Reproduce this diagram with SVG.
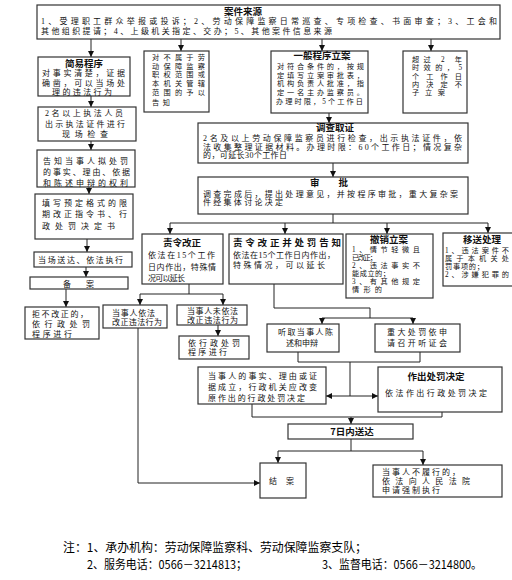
<svg xmlns="http://www.w3.org/2000/svg" width="512" height="580" viewBox="0 0 512 580">
<style>
rect.bx{fill:#fff;stroke:#333;stroke-width:1.2}
text{font-family:"Liberation Serif","Noto Sans CJK SC",serif;font-size:8px;fill:#111}
text.s{font-size:7.2px}
text.h{font-family:"Noto Sans CJK SC",sans-serif;font-weight:bold;font-size:9.5px;text-anchor:middle}
text.n{font-family:"Noto Sans CJK SC",sans-serif;font-size:12px;fill:#000}
.c{fill:none;stroke:#222;stroke-width:1}
</style>
<defs>
<marker id="ar" markerUnits="userSpaceOnUse" markerWidth="6" markerHeight="6" viewBox="0 0 6 6" refX="6" refY="3" orient="auto">
<path d="M0,0 L6,3 L0,6 Z" fill="#111"/>
</marker>
</defs>
<rect width="512" height="580" fill="#fff"/>

<g id="connectors" class="c">
<path d="M91,39 V57" marker-end="url(#ar)"/>
<path d="M181,39 V51" marker-end="url(#ar)"/>
<path d="M322,39 V51" marker-end="url(#ar)"/>
<path d="M431,39 V51" marker-end="url(#ar)"/>
<path d="M91,96 V107" marker-end="url(#ar)"/>
<path d="M91,141 V150" marker-end="url(#ar)"/>
<path d="M89,187 V194" marker-end="url(#ar)"/>
<path d="M87,239 V252" marker-end="url(#ar)"/>
<path d="M86,267 V277" marker-end="url(#ar)"/>
<path d="M66,289 V307" marker-end="url(#ar)"/>
<path d="M329,113 V123" marker-end="url(#ar)"/>
<path d="M333,163 V177" marker-end="url(#ar)"/>
<path d="M333,214 V223 M170,223 H488"/>
<path d="M170,223 V234" marker-end="url(#ar)"/>
<path d="M285,223 V234" marker-end="url(#ar)"/>
<path d="M387,223 V234" marker-end="url(#ar)"/>
<path d="M488,223 V233" marker-end="url(#ar)"/>
<path d="M189,284 V294 M140,294 H223"/>
<path d="M140,294 V305" marker-end="url(#ar)"/>
<path d="M223,294 V305" marker-end="url(#ar)"/>
<path d="M218,325 V336" marker-end="url(#ar)"/>
<path d="M138,328 V483 H260" marker-end="url(#ar)"/>
<path d="M274,284 V308 H370 V318 M322,318 H413"/>
<path d="M322,318 V324" marker-end="url(#ar)"/>
<path d="M413,318 V324" marker-end="url(#ar)"/>
<path d="M298,352 V362 H420 V352 M350,362 V396"/>
<path d="M350,396 H326" marker-end="url(#ar)"/>
<path d="M350,396 H378" marker-end="url(#ar)"/>
<path d="M252,404 V417 H442 V412"/>
<path d="M351,417 V424" marker-end="url(#ar)"/>
<path d="M351,439 V451 M278,451 H423"/>
<path d="M278,451 V463" marker-end="url(#ar)"/>
<path d="M423,451 V465" marker-end="url(#ar)"/>
</g>

<g id="source">
<rect class="bx" x="37" y="5" width="463" height="34"/>
<text class="h" x="243" y="14.5">案件来源</text>
<text x="41" y="23.5" textLength="456" lengthAdjust="spacing">1、受理职工群众举报或投诉；2、劳动保障监察日常巡查、专项检查、书面审查；3、工会和</text>
<text x="41" y="33.5" textLength="291" lengthAdjust="spacing">其他组织提请；4、上级机关指定、交办；5、其他案件信息来源</text>
</g>

<g id="simple">
<rect class="bx" x="38" y="57" width="92" height="39"/>
<text class="h" x="84" y="66.5">简易程序</text>
<text x="42" y="76" textLength="83" lengthAdjust="spacing">对事实清楚，证据</text>
<text x="42" y="85.5" textLength="83" lengthAdjust="spacing">确凿，可以当场处</text>
<text x="52" y="94.5" textLength="60" lengthAdjust="spacing">理的违法行为</text>
</g>

<g id="notbelong">
<rect class="bx" x="144" y="51" width="65" height="61"/>
<text class="s" x="152" y="60" textLength="53" lengthAdjust="spacing">对不属于劳</text>
<text class="s" x="152" y="68.5" textLength="53" lengthAdjust="spacing">动保障监察</text>
<text class="s" x="152" y="77" textLength="53" lengthAdjust="spacing">职权范围或</text>
<text class="s" x="152" y="86" textLength="53" lengthAdjust="spacing">本机关管辖</text>
<text class="s" x="152" y="95" textLength="53" lengthAdjust="spacing">范围的予以</text>
<text class="s" x="152" y="104.5" textLength="18" lengthAdjust="spacing">告知</text>
</g>

<g id="general">
<rect class="bx" x="271" y="51" width="97" height="62"/>
<text class="h" x="322" y="58.5">一般程序立案</text>
<text class="s" x="277" y="69" textLength="87" lengthAdjust="spacing">对符合条件的，按规</text>
<text class="s" x="277" y="77.5" textLength="87" lengthAdjust="spacing">定填写立案审批表，</text>
<text class="s" x="277" y="86" textLength="87" lengthAdjust="spacing">机构负责人批准，指</text>
<text class="s" x="277" y="95" textLength="87" lengthAdjust="spacing">定一名主办监察员。</text>
<text class="s" x="276" y="103.5" textLength="87" lengthAdjust="spacing">办理时限，5个工作日</text>
</g>

<g id="overdue">
<rect class="bx" x="403" y="51" width="64" height="62"/>
<text class="s" x="412" y="61.5" textLength="50" lengthAdjust="spacing">超过 2 年</text>
<text class="s" x="412" y="70" textLength="50" lengthAdjust="spacing">时效的，5</text>
<text class="s" x="412" y="78.5" textLength="50" lengthAdjust="spacing">个工作日</text>
<text class="s" x="412" y="86.5" textLength="50" lengthAdjust="spacing">内决定不</text>
<text class="s" x="412" y="95" textLength="33" lengthAdjust="spacing">子立案</text>
</g>

<g id="inspect">
<rect class="bx" x="38" y="107" width="98" height="34"/>
<text x="45" y="115.5" textLength="78" lengthAdjust="spacing">2名以上执法人员</text>
<text x="45" y="126.5" textLength="80" lengthAdjust="spacing">出示执法证件进行</text>
<text x="62" y="136.5" textLength="46" lengthAdjust="spacing">现场检查</text>
</g>

<g id="inform">
<rect class="bx" x="37" y="150" width="98" height="37"/>
<text x="43" y="164" textLength="85" lengthAdjust="spacing">告知当事人拟处罚</text>
<text x="43" y="175" textLength="87" lengthAdjust="spacing">的事实、理由、依据</text>
<text x="43" y="185.5" textLength="85" lengthAdjust="spacing">和陈述申辩的权利</text>
</g>

<g id="fillform">
<rect class="bx" x="35" y="194" width="98" height="45"/>
<text x="42" y="206" textLength="85" lengthAdjust="spacing">填写预定格式的限</text>
<text x="42" y="217" textLength="85" lengthAdjust="spacing">期改正指令书、行</text>
<text x="42" y="228.5" textLength="73" lengthAdjust="spacing">政处罚决定书</text>
</g>

<g id="deliverNow">
<rect class="bx" x="34" y="252" width="98" height="15"/>
<text x="38" y="263" textLength="85" lengthAdjust="spacing">当场送达、依法执行</text>
</g>

<g id="record">
<rect class="bx" x="30" y="277" width="98" height="12"/>
<text x="63" y="286.5" textLength="31" lengthAdjust="spacing">备　　案</text>
</g>

<g id="refuse">
<rect class="bx" x="25" y="307" width="74" height="32"/>
<text x="32" y="316.5" textLength="56" lengthAdjust="spacing">拒不改正的，</text>
<text x="32" y="326.5" textLength="58" lengthAdjust="spacing">依行政处罚</text>
<text x="32" y="336.5" textLength="40" lengthAdjust="spacing">程序进行</text>
</g>

<g id="investigate">
<rect class="bx" x="198" y="123" width="270" height="40"/>
<text class="h" x="335" y="130.5">调查取证</text>
<text x="203" y="141" textLength="259" lengthAdjust="spacing">2名及以上劳动保障监察员进行检查，出示执法证件，依</text>
<text x="203" y="149.5" textLength="259" lengthAdjust="spacing">法收集整理证据材料。办理时限：60个工作日；情况复杂</text>
<text x="203" y="158" textLength="84" lengthAdjust="spacing">的，可延长30个工作日</text>
</g>

<g id="approve">
<rect class="bx" x="198" y="177" width="270" height="37"/>
<text class="h" x="329" y="185.5">审　　批</text>
<text x="203" y="196.5" textLength="255" lengthAdjust="spacing">调查完成后，提出处理意见，并按程序审批，重大复杂案</text>
<text x="203" y="205" textLength="80" lengthAdjust="spacing">件经集体讨论决定</text>
</g>

<g id="order">
<rect class="bx" x="142" y="234" width="81" height="50"/>
<text class="h" x="182" y="245.5">责令改正</text>
<text x="148" y="257.5" textLength="67" lengthAdjust="spacing">依法在15个工作</text>
<text x="148" y="270" textLength="68" lengthAdjust="spacing">日内作出，特殊情</text>
<text x="148" y="281" textLength="37" lengthAdjust="spacing">况可以延长</text>
</g>

<g id="orderPenalty">
<rect class="bx" x="229" y="234" width="114" height="50"/>
<text class="h" x="287" y="245.5" textLength="108" lengthAdjust="spacing">责令改正并处罚告知</text>
<text x="233" y="257.5" textLength="102" lengthAdjust="spacing">依法在15个工作日内作出，</text>
<text x="233" y="268" textLength="92" lengthAdjust="spacing">特殊情况，可以延长</text>
</g>

<g id="cancel">
<rect class="bx" x="346" y="234" width="87" height="64"/>
<text class="h" x="389" y="243">撤销立案</text>
<text class="s" x="352" y="252" textLength="68" lengthAdjust="spacing">1、情节轻微且</text>
<text class="s" x="352" y="260" textLength="25" lengthAdjust="spacing">已改正；</text>
<text class="s" x="352" y="268" textLength="68" lengthAdjust="spacing">2、违法事实不</text>
<text class="s" x="352" y="276" textLength="38" lengthAdjust="spacing">能成立的；</text>
<text class="s" x="352" y="284" textLength="68" lengthAdjust="spacing">3、有其他规定</text>
<text class="s" x="352" y="292" textLength="30" lengthAdjust="spacing">情形的</text>
</g>

<g id="transfer">
<rect class="bx" x="443" y="233" width="80" height="53"/>
<text class="h" x="482" y="243">移送处理</text>
<text class="s" x="445" y="253" textLength="64" lengthAdjust="spacing">1、违法案件不</text>
<text class="s" x="445" y="261" textLength="64" lengthAdjust="spacing">属于本机关处</text>
<text class="s" x="445" y="268.5" textLength="39" lengthAdjust="spacing">罚事项的；</text>
<text class="s" x="445" y="276.5" textLength="64" lengthAdjust="spacing">2、涉嫌犯罪的</text>
</g>

<g id="corrected">
<rect class="bx" x="103" y="305" width="64" height="23"/>
<text x="112" y="316" textLength="43" lengthAdjust="spacing">当事人依法</text>
<text x="112" y="325" textLength="50" lengthAdjust="spacing">改正违法行为</text>
</g>

<g id="notCorrected">
<rect class="bx" x="177" y="305" width="70" height="20"/>
<text x="187" y="314" textLength="51" lengthAdjust="spacing">当事人未依法</text>
<text x="187" y="323" textLength="51" lengthAdjust="spacing">改正违法行为</text>
</g>

<g id="followProc">
<rect class="bx" x="179" y="336" width="70" height="23"/>
<text x="188" y="346" textLength="52" lengthAdjust="spacing">依行政处罚</text>
<text x="188" y="355" textLength="39" lengthAdjust="spacing">程序进行</text>
</g>

<g id="hear">
<rect class="bx" x="267" y="324" width="72" height="28"/>
<text x="278" y="335" textLength="55" lengthAdjust="spacing">听取当事人陈</text>
<text x="286" y="346" textLength="32" lengthAdjust="spacing">述和申辩</text>
</g>

<g id="hearing">
<rect class="bx" x="375" y="324" width="85" height="28"/>
<text x="387" y="335" textLength="60" lengthAdjust="spacing">重大处罚依申</text>
<text x="387" y="346" textLength="60" lengthAdjust="spacing">请召开听证会</text>
</g>

<g id="facts">
<rect class="bx" x="198" y="367" width="128" height="37"/>
<text x="208" y="378.5" textLength="109" lengthAdjust="spacing">当事人的事实、理由或证</text>
<text x="208" y="390" textLength="109" lengthAdjust="spacing">据成立，行政机关应改变</text>
<text x="208" y="400.5" textLength="97" lengthAdjust="spacing">原作出的行政处罚决定</text>
</g>

<g id="decide">
<rect class="bx" x="378" y="367" width="124" height="45"/>
<text class="h" x="436" y="379.5">作出处罚决定</text>
<text x="385" y="396" textLength="102" lengthAdjust="spacing">依法作出行政处罚决定</text>
</g>

<g id="deliver7">
<rect class="bx" x="288" y="424" width="125" height="15"/>
<text class="h" x="352" y="435">7日内送达</text>
</g>

<g id="close">
<rect class="bx" x="260" y="463" width="46" height="35"/>
<text x="269" y="484" textLength="25" lengthAdjust="spacing">结　案</text>
</g>

<g id="enforce">
<rect class="bx" x="373" y="465" width="129" height="32"/>
<text x="382" y="475" textLength="78" lengthAdjust="spacing">当事人不履行的，</text>
<text x="382" y="484" textLength="88" lengthAdjust="spacing">依法向人民法院</text>
<text x="382" y="493" textLength="58" lengthAdjust="spacing">申请强制执行</text>
</g>

<g id="notes">
<text class="n" x="63" y="551.5" textLength="304" lengthAdjust="spacingAndGlyphs">注：1、承办机构：劳动保障监察科、劳动保障监察支队；</text>
<text class="n" x="87" y="568.5" textLength="160" lengthAdjust="spacingAndGlyphs">2、服务电话：0566－3214813；</text>
<text class="n" x="322" y="568.5" textLength="160" lengthAdjust="spacingAndGlyphs">3、监督电话：0566－3214800。</text>
</g>
</svg>
